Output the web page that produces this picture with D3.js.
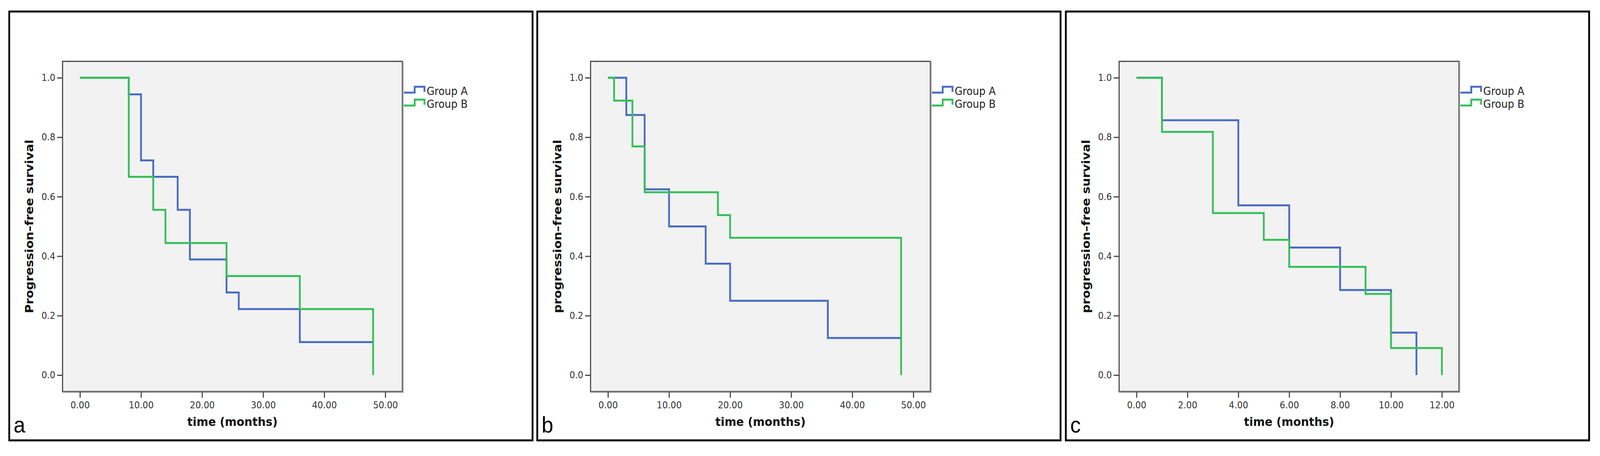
<!DOCTYPE html>
<meta charset="utf-8">
<head>
  <title>pfs-curves</title>
</head>
<style>
  html, body { margin: 0; padding: 0; background: #fff; overflow: hidden; }
  svg { display: block; width: 100vw; height: 100vh; }
  text { font-family: "DejaVu Sans", sans-serif; }
</style>
<body>
  <svg id="chart" viewBox="0 0 4412 1167" preserveAspectRatio="none"></svg>

  <script src="https://cdnjs.cloudflare.com/ajax/libs/d3/7.8.5/d3.min.js"></script>
  <script>
    // data
    var panelLabels = ['a', 'b', 'c'];
    var yTitles = ['Progression\u2013free survival', 'progression\u2013free survival', 'progression\u2013free survival'];
    var xTitle = 'time (months)';
    var seriesNames = ['Group A', 'Group B'];
    var seriesColors = ['#4a6cc4', '#34c05a'];

    var xTicksAB = [0, 10, 20, 30, 40, 50];
    var xTicksC = [0, 2, 4, 6, 8, 10, 12];
    var yTicks = [0, 0.2, 0.4, 0.6, 0.8, 1.0];

    var aTimesA = [0, 8, 10, 12, 16, 18, 24, 26, 36, 48];
    var aSurvA = [1, 0.944, 0.722, 0.667, 0.556, 0.389, 0.278, 0.222, 0.111, 0.111];
    var aTimesB = [0, 8, 12, 14, 24, 36, 48];
    var aSurvB = [1, 0.667, 0.556, 0.444, 0.333, 0.222, 0];

    var bTimesA = [0, 3, 6, 10, 16, 20, 36, 48];
    var bSurvA = [1, 0.875, 0.625, 0.5, 0.375, 0.25, 0.125, 0.125];
    var bTimesB = [0, 1, 4, 6, 18, 20, 48];
    var bSurvB = [1, 0.923, 0.769, 0.615, 0.538, 0.462, 0];

    var cTimesA = [0, 1, 4, 6, 8, 10, 11];
    var cSurvA = [1, 0.857, 0.571, 0.429, 0.286, 0.143, 0];
    var cTimesB = [0, 1, 3, 5, 6, 9, 10, 12];
    var cSurvB = [1, 0.818, 0.545, 0.455, 0.364, 0.273, 0.091, 0];

    var panels = [
      { x0: 25.5, xMax: 50, ticks: xTicksAB, times: [aTimesA, aTimesB], surv: [aSurvA, aSurvB] },
      { x0: 1481.5, xMax: 50, ticks: xTicksAB, times: [bTimesA, bTimesB], surv: [bSurvA, bSurvB] },
      { x0: 2939, xMax: 12, ticks: xTicksC, times: [cTimesA, cTimesB], surv: [cSurvA, cSurvB] }
    ];

    var svg = d3.select('#chart');
    svg.append('rect').attr('width', 4412).attr('height', 1167).attr('fill', '#fff');

    var panelW = 1445, panelTop = 29.5, panelBottom = 1127;
    var plotTop = 157, plotBottom = 1002;

    panels.forEach(function(p, i) {
      var g = svg.append('g');
      var left = p.x0 + 147, right = p.x0 + 1084;

      // outer frame
      g.append('rect')
        .attr('x', p.x0).attr('y', panelTop)
        .attr('width', panelW - 2).attr('height', panelBottom - panelTop)
        .attr('fill', 'none').attr('stroke', '#000').attr('stroke-width', 5);

      var x = d3.scaleLinear().domain([0, p.xMax]).range([left + 48, left + 890]);
      var y = d3.scaleLinear().domain([0, 1]).range([plotBottom - 42, plotTop + 42]);

      // plot area
      g.append('rect')
        .attr('x', left).attr('y', plotTop)
        .attr('width', right - left).attr('height', plotBottom - plotTop)
        .attr('fill', '#f2f2f2').attr('stroke', '#444').attr('stroke-width', 3);
      g.append('path')
        .attr('d', 'M' + left + ',' + (plotBottom + 1.5) + 'H' + (right + 1.5) + 'V' + plotTop)
        .attr('fill', 'none').attr('stroke', '#888').attr('stroke-width', 3);

      var xAxis = g.append('g')
        .attr('transform', 'translate(0,' + (plotBottom + 1) + ')')
        .call(d3.axisBottom(x).tickValues(p.ticks).tickFormat(d3.format('.2f'))
          .tickSize(15).tickPadding(10).tickSizeOuter(0));
      var yAxis = g.append('g')
        .attr('transform', 'translate(' + (left - 1) + ',0)')
        .call(d3.axisLeft(y).tickValues(yTicks).tickFormat(d3.format('.1f'))
          .tickSize(14).tickPadding(5).tickSizeOuter(0));
      [xAxis, yAxis].forEach(function(ax) {
        ax.select('.domain').remove();
        ax.selectAll('line').attr('stroke', '#444').attr('stroke-width', 3);
        ax.selectAll('text').attr('fill', '#333').style('font-size', '24px')
          .style('font-family', '"DejaVu Sans", sans-serif');
      });

      // survival step curves
      var line = d3.line().curve(d3.curveStepAfter)
        .x(function(d) { return x(d[0]); })
        .y(function(d) { return y(d[1]); });
      p.times.forEach(function(t, k) {
        g.append('path')
          .datum(d3.zip(t, p.surv[k]))
          .attr('d', line)
          .attr('fill', 'none')
          .attr('stroke', seriesColors[k])
          .attr('stroke-width', 5);
      });

      // titles
      g.append('text')
        .attr('x', (left + right) / 2).attr('y', 1090)
        .attr('text-anchor', 'middle')
        .style('font-size', '31px').style('font-weight', 'bold').attr('fill', '#111')
        .text(xTitle);
      g.append('text')
        .attr('transform', 'translate(' + (p.x0 + 66) + ',' + ((plotTop + plotBottom) / 2) + ') rotate(-90)')
        .attr('text-anchor', 'middle')
        .style('font-size', '31px').style('font-weight', 'bold').attr('fill', '#111')
        .text(yTitles[i]);

      // legend
      seriesNames.forEach(function(name, k) {
        var cy = 233 + k * 33;
        var lx = right + 4;
        g.append('path')
          .attr('d', 'M' + lx + ',' + (cy + 4) + 'H' + (lx + 30) + 'V' + (cy - 11) + 'H' + (lx + 57) + 'V' + (cy + 2))
          .attr('fill', 'none').attr('stroke', seriesColors[k]).attr('stroke-width', 5);
        g.append('text')
          .attr('x', right + 67).attr('y', cy + 10)
          .style('font-size', '28px').attr('fill', '#222')
          .text(name);
      });

      // panel letter
      g.append('text')
        .attr('x', p.x0 + 12).attr('y', 1107)
        .style('font-family', '"Liberation Sans", Arial, sans-serif')
        .style('font-size', '58px').attr('fill', '#000')
        .text(panelLabels[i]);
    });
  </script>
</body>
</html>
